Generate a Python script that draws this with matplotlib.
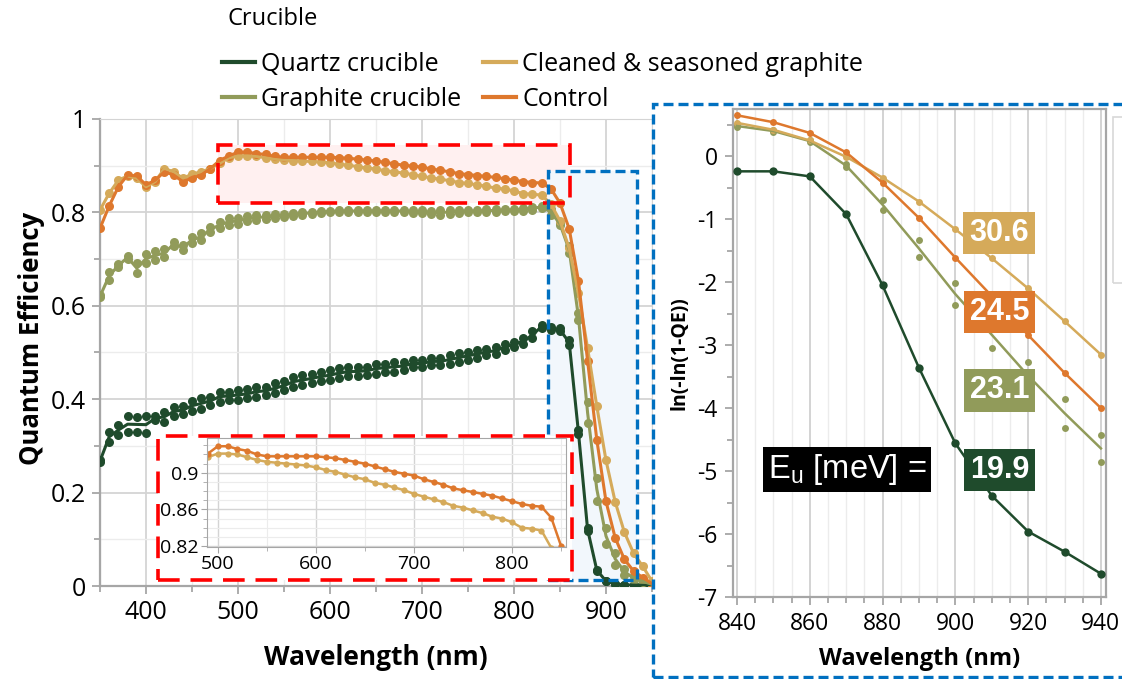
import numpy as np
import matplotlib.pyplot as plt
from matplotlib.patches import Rectangle
from matplotlib.lines import Line2D
from matplotlib.ticker import MultipleLocator, FuncFormatter

plt.rcParams['font.family'] = ['Open Sans', 'DejaVu Sans']

# ---- data: quantum efficiency, 350-950 nm every 10 nm ----
wavelength = np.arange(350, 951, 10)

qe_control = [0.766, 0.814, 0.855, 0.880, 0.878, 0.859, 0.869, 0.887, 0.880, 0.866,
              0.873, 0.880, 0.894, 0.911, 0.921, 0.929, 0.929, 0.926, 0.924, 0.920,
              0.918, 0.918, 0.918, 0.918, 0.918, 0.918, 0.917, 0.916, 0.914, 0.912,
              0.910, 0.907, 0.904, 0.901, 0.899, 0.897, 0.893, 0.890, 0.887, 0.883,
              0.881, 0.879, 0.877, 0.875, 0.872, 0.869, 0.866, 0.864, 0.863, 0.851,
              0.820, 0.765, 0.654, 0.482, 0.313, 0.181, 0.103, 0.057, 0.032, 0.018, 0.005]

qe_cleaned = [0.805, 0.841, 0.869, 0.878, 0.873, 0.855, 0.866, 0.894, 0.887, 0.873,
              0.882, 0.887, 0.894, 0.905, 0.917, 0.921, 0.921, 0.920, 0.917, 0.914,
              0.912, 0.911, 0.910, 0.909, 0.908, 0.906, 0.903, 0.901, 0.898, 0.895,
              0.893, 0.889, 0.887, 0.884, 0.881, 0.877, 0.874, 0.871, 0.868, 0.864,
              0.862, 0.859, 0.856, 0.852, 0.850, 0.846, 0.840, 0.839, 0.837, 0.818,
              0.782, 0.723, 0.628, 0.509, 0.385, 0.269, 0.180, 0.115, 0.070, 0.042, 0.010]

qe_graphite_a = [0.623, 0.673, 0.690, 0.707, 0.691, 0.711, 0.718, 0.721, 0.737, 0.730,
                 0.748, 0.755, 0.769, 0.780, 0.787, 0.787, 0.792, 0.794, 0.795, 0.796,
                 0.797, 0.799, 0.800, 0.801, 0.803, 0.804, 0.805, 0.805, 0.806, 0.805,
                 0.806, 0.805, 0.806, 0.805, 0.805, 0.805, 0.804, 0.805, 0.805, 0.806,
                 0.806, 0.806, 0.807, 0.807, 0.808, 0.808, 0.810, 0.812, 0.814, 0.808,
                 0.778, 0.727, 0.584, 0.394, 0.232, 0.125, 0.070, 0.037, 0.021, 0.012, 0.004]
qe_graphite_b = [0.618, 0.655, 0.683, 0.700, 0.670, 0.691, 0.698, 0.705, 0.727, 0.720,
                 0.734, 0.741, 0.758, 0.766, 0.773, 0.776, 0.781, 0.784, 0.786, 0.788,
                 0.790, 0.793, 0.795, 0.797, 0.799, 0.800, 0.801, 0.801, 0.800, 0.801,
                 0.800, 0.801, 0.800, 0.801, 0.799, 0.798, 0.797, 0.794, 0.797, 0.799,
                 0.800, 0.800, 0.801, 0.801, 0.802, 0.802, 0.804, 0.806, 0.809, 0.795,
                 0.772, 0.712, 0.570, 0.348, 0.183, 0.089, 0.046, 0.024, 0.013, 0.008, 0.003]

qe_quartz_a = [0.270, 0.330, 0.345, 0.363, 0.362, 0.364, 0.363, 0.373, 0.384, 0.385,
               0.397, 0.402, 0.405, 0.416, 0.416, 0.420, 0.421, 0.427, 0.427, 0.434,
               0.438, 0.448, 0.452, 0.455, 0.459, 0.462, 0.466, 0.469, 0.469, 0.470,
               0.476, 0.476, 0.480, 0.480, 0.485, 0.485, 0.489, 0.489, 0.494, 0.498,
               0.501, 0.505, 0.508, 0.512, 0.518, 0.523, 0.530, 0.545, 0.559, 0.555,
               0.552, 0.527, 0.335, 0.124, 0.035, 0.011, 0.0046, 0.0026, 0.0019, 0.0013, 0.001]
qe_quartz_b = [0.265, 0.309, 0.323, 0.330, 0.330, 0.327, 0.355, 0.352, 0.363, 0.369,
               0.375, 0.380, 0.388, 0.395, 0.398, 0.398, 0.402, 0.405, 0.409, 0.413,
               0.420, 0.427, 0.430, 0.434, 0.438, 0.441, 0.446, 0.449, 0.450, 0.452,
               0.455, 0.459, 0.459, 0.462, 0.468, 0.468, 0.473, 0.473, 0.476, 0.480,
               0.485, 0.489, 0.494, 0.496, 0.505, 0.512, 0.518, 0.530, 0.552, 0.548,
               0.545, 0.516, 0.325, 0.118, 0.033, 0.010, 0.0044, 0.0025, 0.0018, 0.0013, 0.001]

# ---- data: band-tail panel, ln(-ln(1-QE)) 840-940 nm ----
wl_tail = np.arange(840, 941, 10)
tail_quartz = [-0.24, -0.24, -0.32, -0.92, -2.05, -3.36, -4.56, -5.39, -5.96, -6.28, -6.63]
tail_graphite_a = [0.50, 0.41, 0.26, -0.13, -0.69, -1.33, -2.01, -2.62, -3.27, -3.85, -4.42]
tail_graphite_b = [0.46, 0.39, 0.22, -0.17, -0.85, -1.60, -2.37, -3.05, -3.70, -4.31, -4.86]
tail_cleaned = [0.53, 0.42, 0.25, -0.01, -0.34, -0.72, -1.16, -1.62, -2.10, -2.62, -3.15]
tail_control = [0.65, 0.54, 0.37, 0.06, -0.42, -0.98, -1.61, -2.22, -2.84, -3.44, -4.00]

urbach_labels = ['30.6', '24.5', '23.1', '19.9']
urbach_y = [-1.22, -2.47, -3.72, -4.98]

c_quartz = '#1f4b2c'
c_graphite = '#919b5a'
c_cleaned = '#d5aa5a'
c_control = '#de782d'

W, H = 1122, 679
fig = plt.figure(figsize=(W / 100, H / 100), dpi=100)

def fbox(x0, y0, x1, y1):
    # pixel box (top-left origin) -> figure fraction rect
    return [x0 / W, 1 - y1 / H, (x1 - x0) / W, (y1 - y0) / H]

# ---------------- main QE plot ----------------
ax = fig.add_axes(fbox(100, 119, 652, 586))
series = [
    (c_quartz, [qe_quartz_a, qe_quartz_b]),
    (c_graphite, [qe_graphite_a, qe_graphite_b]),
    (c_cleaned, [qe_cleaned]),
    (c_control, [qe_control]),
]
for col, samples in series:
    for s in samples:
        ax.plot(wavelength, s, 'o', color=col, ms=6.5, mec='none', zorder=3)
    ax.plot(wavelength, np.mean(samples, axis=0), '-', color=col, lw=2.2, zorder=4)

ax.set_xlim(350, 950)
ax.set_ylim(0, 1)
ax.xaxis.set_major_locator(MultipleLocator(100))
ax.xaxis.set_minor_locator(MultipleLocator(50))
ax.yaxis.set_major_locator(MultipleLocator(0.2))
ax.yaxis.set_minor_locator(MultipleLocator(0.1))
ax.yaxis.set_major_formatter(FuncFormatter(lambda v, p: f'{v:g}'))
ax.set_xticks([400, 500, 600, 700, 800, 900])
ax.grid(which='major', color='#d4d4d4', lw=1.3)
ax.grid(which='minor', color='#ececec', lw=1.0)
ax.set_axisbelow(True)
for s in ['left', 'bottom']:
    ax.spines[s].set_color('#a6a6a6')
    ax.spines[s].set_linewidth(1.6)
for s in ['top', 'right']:
    ax.spines[s].set_color('#d4d4d4')
ax.tick_params(which='both', color='#a6a6a6', width=1.3, labelsize=18, pad=4)
ax.tick_params(which='major', length=6)
ax.tick_params(which='minor', length=4)
ax.set_xlabel('Wavelength (nm)', fontsize=19, fontweight='bold', labelpad=14)
ax.set_ylabel('Quantum Efficiency', fontsize=18.5, fontweight='bold')
ax.yaxis.set_label_coords(-0.10, 0.53)

# highlighted regions
ax.add_patch(Rectangle((478, 0.82), 383, 0.124, fc='#fff0f0', ec='none', zorder=1))
ax.add_patch(Rectangle((478, 0.82), 383, 0.124, fc='none', ec='#ff0000', lw=2.6,
                       ls=(0, (6, 3)), zorder=6))
ax.add_patch(Rectangle((837, 0.013), 97, 0.876, fc='#f2f7fc', ec='none', zorder=1))
ax.add_patch(Rectangle((837, 0.013), 97, 0.876, fc='none', ec='#0070c0', lw=2.4,
                       ls=(0, (3, 1.5)), zorder=6))

# white frame for the inset
fig.patches.append(Rectangle(fbox(158, 436, 572, 580)[:2], 414 / W, 144 / H,
                             transform=fig.transFigure, fc='white', ec='#ff0000',
                             lw=2.6, ls=(0, (6, 3)), zorder=2))

# ---------------- inset ----------------
axin = fig.add_axes(fbox(207, 438, 566, 547))
axin.set_zorder(3)
axin.plot(wavelength, qe_cleaned, '-o', color=c_cleaned, ms=4.5, lw=1.8, mec='none')
axin.plot(wavelength, qe_control, '-o', color=c_control, ms=4.5, lw=1.8, mec='none')
axin.set_xlim(489, 855)
axin.set_ylim(0.819, 0.938)
axin.xaxis.set_major_locator(MultipleLocator(100))
axin.xaxis.set_minor_locator(MultipleLocator(50))
axin.yaxis.set_major_locator(MultipleLocator(0.04))
axin.yaxis.set_minor_locator(MultipleLocator(0.01))
axin.set_yticks([0.82, 0.86, 0.90])
axin.yaxis.set_major_formatter(FuncFormatter(lambda v, p: f'{v:g}'))
axin.grid(which='major', color='#d4d4d4', lw=1.0)
axin.grid(which='minor', color='#ececec', lw=0.8)
axin.set_axisbelow(True)
for s in axin.spines.values():
    s.set_color('#a6a6a6')
axin.tick_params(which='both', color='#a6a6a6', labelsize=14, pad=2)
axin.tick_params(which='major', length=4)
axin.tick_params(which='minor', length=3)

# ---------------- band tail panel ----------------
ax2 = fig.add_axes(fbox(733, 109, 1106, 597))
tails = [
    (c_quartz, [tail_quartz], 6),
    (c_graphite, [tail_graphite_a, tail_graphite_b], 5),
    (c_cleaned, [tail_cleaned], 5),
    (c_control, [tail_control], 5),
]
for col, samples, ms in tails:
    for s in samples:
        ax2.plot(wl_tail, s, 'o', color=col, ms=ms, mec='none', zorder=3)
    ax2.plot(wl_tail, np.mean(samples, axis=0), '-', color=col, lw=1.8, zorder=4)

ax2.set_xlim(838.9, 941.4)
ax2.set_ylim(-7, 0.75)
ax2.xaxis.set_major_locator(MultipleLocator(20))
ax2.xaxis.set_minor_locator(MultipleLocator(5))
ax2.yaxis.set_major_locator(MultipleLocator(1))
ax2.yaxis.set_minor_locator(MultipleLocator(0.5))
ax2.yaxis.set_major_formatter(FuncFormatter(lambda v, p: f'{v:g}'))
ax2.grid(axis='x', which='major', color='#d0d0d0', lw=1.3)
ax2.grid(axis='x', which='minor', color='#ececec', lw=1.0)
ax2.set_axisbelow(True)
for s in ax2.spines.values():
    s.set_color('#a6a6a6')
    s.set_linewidth(1.6)
ax2.tick_params(which='both', color='#a6a6a6', width=1.3, labelsize=16.5, pad=5)
ax2.tick_params(which='major', length=6)
ax2.tick_params(which='minor', length=4)
ax2.set_xlabel('Wavelength (nm)', fontsize=17, fontweight='bold', labelpad=8)
ax2.set_ylabel('ln(-ln(1-QE))', fontsize=14, fontweight='bold', labelpad=6)

box_cols = [c_cleaned, c_control, c_graphite, c_quartz]
for lab, yv, col in zip(urbach_labels, urbach_y, box_cols):
    ax2.text(912.1, yv, lab, ha='center', va='center', color='white', fontsize=22,
             fontweight='bold', family='Liberation Sans', zorder=6,
             bbox=dict(boxstyle='square,pad=0.2', fc=col, ec='none'))
ax2.text(870.2, -4.98, r'E$_\mathregular{u}$ [meV] =', ha='center', va='center',
         color='white', fontsize=23.5, family='Liberation Sans', zorder=6,
         bbox=dict(boxstyle='square,pad=0.15', fc='black', ec='none'))

# frames around the right panel and the partly visible legend box
fig.patches.append(Rectangle((653 / W, 2 / H), 480 / W, 573 / H, transform=fig.transFigure,
                             fc='none', ec='#0070c0', lw=2.4, ls=(0, (3, 1.5)), zorder=5))
fig.patches.append(Rectangle((1113 / W, 1 - 283 / H), 30 / W, 166 / H,
                             transform=fig.transFigure, fc='none', ec='#d8d8d8', lw=1.2,
                             zorder=5))

# ---------------- legend ----------------
fig.text(227 / W, 1 - 19 / H, 'Crucible', fontsize=17, va='center', ha='left')
handles = [Line2D([], [], color=c, lw=3) for c in [c_quartz, c_graphite, c_cleaned, c_control]]
labels = ['Quartz crucible', 'Graphite crucible', 'Cleaned & seasoned graphite', 'Control']
fig.legend(handles, labels, loc='upper left', bbox_to_anchor=(222 / W, 1 - 52 / H),
           ncol=2, frameon=False, fontsize=18, handlelength=1.3, handletextpad=0.25,
           columnspacing=0.9, labelspacing=0.4, borderpad=0, borderaxespad=0)

fig.savefig('out.png', dpi=100)
